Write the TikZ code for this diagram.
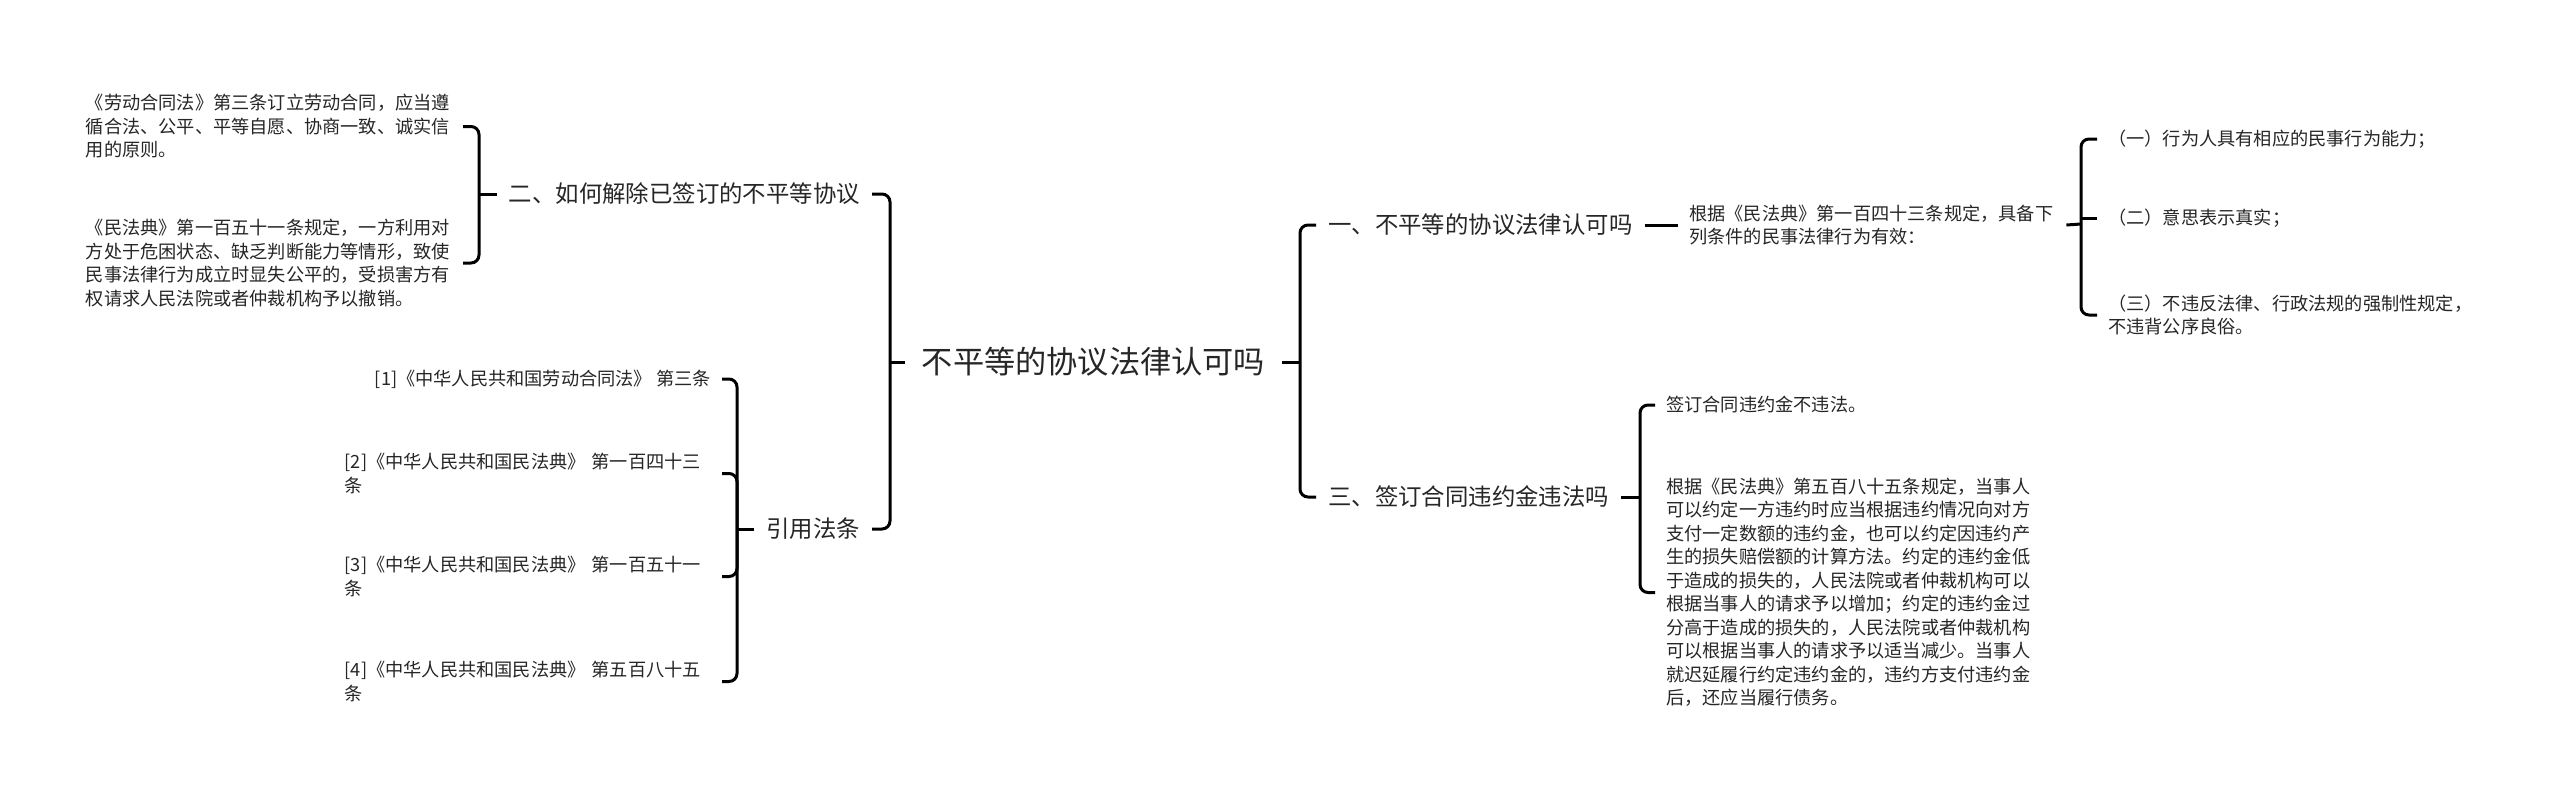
\documentclass[tikz,border=0pt]{standalone}
\usepackage{fontspec}
\setmainfont{Noto Sans CJK SC}
\begin{document}
\begin{tikzpicture}[x=1pt,y=-1pt,
  conn/.style={line width=3pt, rounded corners=8pt},
  base/.style={inner ysep=0pt, text=black!85},
  rootnode/.style={base, font=\fontsize{31.2pt}{38pt}\selectfont, inner xsep=17pt},
  lvone/.style={base, font=\fontsize{23.4pt}{28pt}\selectfont, inner xsep=12pt},
  leaf/.style={base, font=\fontsize{18.2pt}{23.5pt}\selectfont, inner xsep=11pt, align=left},
  wide/.style={text width=366pt}
]
\useasboundingbox[fill=white] (0,0) rectangle (2560,796);

% root
\node[rootnode] (root) at (1093.5,362) {不平等的协议法律认可吗};

% left level one
\node[lvone, anchor=east] (L1) at (872,194) {二、如何解除已签订的不平等协议};
\node[lvone, anchor=east] (L2) at (872,529) {引用法条};

% left leaves of L1
\node[leaf, wide, anchor=east] (la) at (463,126.5) {《劳动合同法》第三条订立劳动合同，应当遵\\循合法、公平、平等自愿、协商一致、诚实信\\用的原则。};
\node[leaf, wide, anchor=east] (lb) at (463,263) {《民法典》第一百五十一条规定，一方利用对\\方处于危困状态、缺乏判断能力等情形，致使\\民事法律行为成立时显失公平的，受损害方有\\权请求人民法院或者仲裁机构予以撤销。};

% left leaves of L2
\node[leaf, anchor=east] (c1) at (722,379) {[1]《中华人民共和国劳动合同法》 第三条};
\node[leaf, wide, anchor=east] (c2) at (722,473.5) {[2]《中华人民共和国民法典》 第一百四十三\\条};
\node[leaf, wide, anchor=east] (c3) at (722,576.5) {[3]《中华人民共和国民法典》 第一百五十一\\条};
\node[leaf, wide, anchor=east] (c4) at (722,681.5) {[4]《中华人民共和国民法典》 第五百八十五\\条};

% right level one
\node[lvone, anchor=west] (R1) at (1316,225) {一、不平等的协议法律认可吗};
\node[lvone, anchor=west] (R3) at (1316,497) {三、签订合同违约金违法吗};

% right leaves
\node[leaf, wide, anchor=west] (R1a) at (1678,225) {根据《民法典》第一百四十三条规定，具备下\\列条件的民事法律行为有效：};
\node[leaf, anchor=west] (d1) at (2097,139) {（一）行为人具有相应的民事行为能力；};
\node[leaf, anchor=west] (d2) at (2097,218) {（二）意思表示真实；};
\node[leaf, anchor=west] (d3) at (2097,315) {（三）不违反法律、行政法规的强制性规定，\\不违背公序良俗。};

\node[leaf, anchor=west] (R3a) at (1655,405) {签订合同违约金不违法。};
\node[leaf, wide, anchor=west] (R3b) at (1655,592.5) {根据《民法典》第五百八十五条规定，当事人\\可以约定一方违约时应当根据违约情况向对方\\支付一定数额的违约金，也可以约定因违约产\\生的损失赔偿额的计算方法。约定的违约金低\\于造成的损失的，人民法院或者仲裁机构可以\\根据当事人的请求予以增加；约定的违约金过\\分高于造成的损失的，人民法院或者仲裁机构\\可以根据当事人的请求予以适当减少。当事人\\就迟延履行约定违约金的，违约方支付违约金\\后，还应当履行债务。};

% bracket junctions
\coordinate (bl) at (890,362);
\coordinate (br) at (1300,362);
\coordinate (b1) at (479,194);
\coordinate (b2) at (737,529);
\coordinate (b3) at (2081,224);
\coordinate (b4) at (1640,497);

% root connectors
\draw[conn] (root.west) -- (bl);
\draw[conn] (L1.east) -| (bl);
\draw[conn] (L2.east) -| (bl);
\draw[conn] (root.east) -- (br);
\draw[conn] (R1.west) -| (br);
\draw[conn] (R3.west) -| (br);

% L1 group
\draw[conn] (L1.west) -- (b1);
\draw[conn] (la.east) -| (b1);
\draw[conn] (lb.east) -| (b1);

% L2 group
\draw[conn] (L2.west) -- (b2);
\draw[conn] (c1.east) -| (b2);
\draw[conn] (c2.east) -| (b2);
\draw[conn] (c3.east) -| (b2);
\draw[conn] (c4.east) -| (b2);

% R1 group
\draw[conn] (R1.east) -- (R1a.west);
\draw[conn] (R1a.east) -- (b3);
\draw[conn] (d1.west) -| (b3);
\draw[conn] (d3.west) -| (b3);
\draw[conn] (d2.west) -- (d2.west -| b3);

% R3 group
\draw[conn] (R3.east) -- (b4);
\draw[conn] (R3a.west) -| (b4);
\draw[conn] (R3b.west) -| (b4);
\end{tikzpicture}
\end{document}
